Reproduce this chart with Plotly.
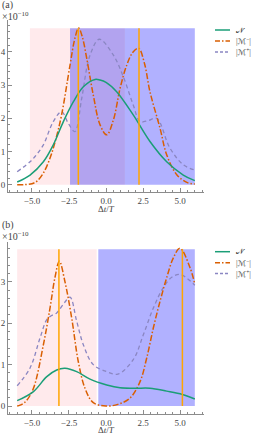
import plotly.graph_objects as go

W, H = 257, 437

# ---------------- data: panel (a) ----------------
a_N_x = [-6.0, -5.13, -4.23, -3.56, -2.88, -2.2, -1.53, -0.74, -0.4, 0.0, 0.72, 1.84, 2.97, 4.1, 5.22, 6.0]
a_N_y = [0.08, 0.29, 0.69, 1.2, 1.9, 2.5, 2.95, 3.17, 3.15, 3.08, 2.8, 2.1, 1.3, 0.69, 0.29, 0.12]

a_Mm_x = [-6.0, -5.5, -5.0, -4.68, -4.23, -3.78, -3.4, -3.0, -2.43, -2.1, -1.85, -1.6, -1.3, -0.86, -0.4, 0.05,
          0.5, 0.95, 1.4, 1.8, 2.2, 2.6, 2.97, 3.65, 4.1, 4.78, 5.5, 6.0]
a_Mm_y = [0.0, 0.0, 0.03, 0.1, 0.35, 0.8, 1.35, 2.1, 3.6, 4.41, 4.72, 4.45, 3.8, 2.7, 1.8, 1.5,
          1.95, 2.9, 3.6, 3.98, 4.11, 3.65, 2.8, 1.7, 0.9, 0.3, 0.06, 0.02]

a_Mp_x = [-6.0, -5.13, -4.7, -4.23, -3.56, -3.0, -2.55, -2.1, -1.64, -1.08, -0.45, 0.5, 1.17, 1.84, 2.3, 2.85,
          3.42, 4.32, 5.22, 6.0]
a_Mp_y = [0.39, 0.69, 0.9, 1.2, 1.9, 2.2, 1.85, 1.6, 2.6, 3.9, 4.38, 3.9, 3.25, 2.4, 1.9, 1.93,
          2.0, 1.1, 0.6, 0.44]

a_regions = [(-5.14, -2.43), (-2.43, 1.28), (1.28, 6.0)]
a_region_top = 4.71
a_vlines = [-1.87, 2.23]

# ---------------- data: panel (b) ----------------
b_N_x = [-6.0, -4.9, -4.0, -3.33, -2.77, -1.98, -1.08, 0.05, 0.95, 2.0, 2.97, 4.1, 5.16, 6.0]
b_N_y = [0.13, 0.35, 0.71, 0.87, 0.91, 0.83, 0.65, 0.51, 0.44, 0.43, 0.43, 0.36, 0.28, 0.17]

b_Mm_x = [-6.0, -5.8, -5.4, -4.9, -4.23, -3.78, -3.45, -3.15, -2.77, -2.32, -1.87, -1.42, -0.86, 0.0, 0.8,
          1.62, 2.3, 2.75, 3.2, 3.65, 4.1, 4.55, 5.0, 5.68, 6.0]
b_Mm_y = [0.0, 0.02, 0.12, 0.43, 1.48, 2.37, 3.1, 3.5, 3.0, 2.13, 1.07, 0.43, 0.08, 0.0, 0.04,
          0.19, 0.59, 1.16, 1.89, 2.53, 3.1, 3.58, 3.81, 3.34, 2.94]

b_Mp_x = [-6.0, -5.13, -4.46, -4.0, -3.7, -3.33, -2.8, -2.43, -1.98, -1.53, -0.86, 0.05, 0.8, 1.84, 2.52,
          3.2, 3.87, 4.44, 5.0, 6.0]
b_Mp_y = [0.49, 0.92, 1.64, 2.09, 2.18, 2.25, 2.5, 2.63, 2.05, 1.48, 1.0, 0.83, 0.77, 1.12, 1.72,
          2.37, 2.86, 3.11, 3.18, 2.92]

b_regions = [(-6.0, -0.63), (-0.52, 6.0)]
b_region_top = 3.79
b_vlines = [-3.18, 5.16]

x_ticks = [-5.0, -2.5, 0.0, 2.5, 5.0]
a_y_ticks = [0, 1, 2, 3, 4]
b_y_ticks = [0, 1, 2, 3]

legend_names = ["𝒩", "|ℳ<sup>−</sup>|", "|ℳ<sup>+</sup>|"]

# ---------------- styles ----------------
C_N = "#1b9e77"
C_Mm = "#d95f02"
C_Mp = "#8a86c2"
C_V = "#ffa500"
a_region_colors = ["#ffeaec", "#b2a3ef", "#b1b1ff"]
b_region_colors = ["#ffeaec", "#b1b1ff"]
AX = "#8c8c8c"
TXT = "#444444"
FONT = "Liberation Serif, DejaVu Serif, DejaVu Sans, Noto Sans"


def px(X):
    return X / W


def py(Y):
    return 1 - Y / H


fig = go.Figure()

series = [
    ("x", "y", a_N_x, a_N_y, a_Mm_x, a_Mm_y, a_Mp_x, a_Mp_y),
    ("x2", "y2", b_N_x, b_N_y, b_Mm_x, b_Mm_y, b_Mp_x, b_Mp_y),
]
for xa, ya, nx, ny, mmx, mmy, mpx, mpy in series:
    fig.add_trace(go.Scatter(x=mpx, y=mpy, xaxis=xa, yaxis=ya, mode="lines", showlegend=False,
                             hoverinfo="skip",
                             line=dict(color=C_Mp, width=1.3, dash="4px,3px", shape="spline", smoothing=1.0)))
    fig.add_trace(go.Scatter(x=mmx, y=mmy, xaxis=xa, yaxis=ya, mode="lines", showlegend=False,
                             hoverinfo="skip",
                             line=dict(color=C_Mm, width=1.5, dash="6px,2px,1.5px,2px", shape="spline", smoothing=1.0)))
    fig.add_trace(go.Scatter(x=nx, y=ny, xaxis=xa, yaxis=ya, mode="lines", showlegend=False,
                             hoverinfo="skip",
                             line=dict(color=C_N, width=1.5, shape="spline", smoothing=1.0)))

shapes = []
for (x0, x1), c in zip(a_regions, a_region_colors):
    shapes.append(dict(type="rect", xref="x", yref="y", x0=x0, x1=x1, y0=0, y1=a_region_top,
                       fillcolor=c, line=dict(width=0), layer="below"))
for (x0, x1), c in zip(b_regions, b_region_colors):
    shapes.append(dict(type="rect", xref="x2", yref="y2", x0=x0, x1=x1, y0=0, y1=b_region_top,
                       fillcolor=c, line=dict(width=0), layer="below"))
for v in a_vlines:
    shapes.append(dict(type="line", xref="x", yref="y", x0=v, x1=v, y0=0, y1=a_region_top,
                       line=dict(color=C_V, width=1.5), layer="above"))
for v in b_vlines:
    shapes.append(dict(type="line", xref="x2", yref="y2", x0=v, x1=v, y0=0, y1=b_region_top,
                       line=dict(color=C_V, width=1.5), layer="above"))

# manual legends
leg_styles = [dict(color=C_N, width=1.5), dict(color=C_Mm, width=1.5, dash="5px,2px,1.5px,2px"),
              dict(color=C_Mp, width=1.3, dash="3px,2px")]
annotations = []
for rows in ([30, 41, 52], [251.7, 262.7, 273.5]):
    for Y, st, name in zip(rows, leg_styles, legend_names):
        shapes.append(dict(type="line", xref="paper", yref="paper", x0=px(215), x1=px(230),
                           y0=py(Y), y1=py(Y), line=st))
        annotations.append(dict(x=px(234), y=py(Y), xref="paper", yref="paper", text=name,
                                showarrow=False, xanchor="left", yanchor="middle",
                                font=dict(family=FONT, size=8, color=TXT)))

for lab, Y1, Y2 in (("(a)", 5, 16), ("(b)", 225.5, 236)):
    annotations.append(dict(x=0, y=py(Y1), xref="paper", yref="paper", text=lab, showarrow=False,
                            xanchor="left", yanchor="middle", font=dict(family=FONT, size=10, color=TXT)))
    annotations.append(dict(x=0, y=py(Y2), xref="paper", yref="paper", text="×10<sup>−10</sup>",
                            showarrow=False, xanchor="left", yanchor="middle",
                            font=dict(family=FONT, size=10, color=TXT)))

for Y in (209.5, 429.5):
    annotations.append(dict(x=px(106), y=py(Y), xref="paper", yref="paper",
                            text="Δ<i>t</i>/<i>T</i>", showarrow=False, xanchor="center", yanchor="middle",
                            font=dict(family=FONT, size=9, color=TXT)))

xaxis_common = dict(range=[-6.62, 6.62], domain=[px(8), px(204)], tickvals=x_ticks,
                    ticktext=[f"{v:.1f}".replace("-", "−") for v in x_ticks],
                    showline=True, linecolor=AX, linewidth=1, ticks="inside", ticklen=4, tickcolor=AX,
                    showgrid=False, zeroline=False, tickfont=dict(family=FONT, size=9, color=TXT),
                    minor=dict(ticks="inside", ticklen=2, tickcolor=AX, dtick=0.5, tick0=0))
yaxis_common = dict(showline=True, linecolor=AX, linewidth=1, ticks="inside", ticklen=4, tickcolor=AX,
                    showgrid=False, zeroline=False, tickfont=dict(family=FONT, size=9, color=TXT),
                    minor=dict(ticks="inside", ticklen=2, tickcolor=AX, dtick=0.2, tick0=0))

fig.update_layout(
    width=W, height=H, margin=dict(l=0, r=0, t=0, b=0),
    paper_bgcolor="white", plot_bgcolor="white", showlegend=False, hovermode=False,
    xaxis=dict(**xaxis_common, anchor="y"),
    yaxis=dict(**yaxis_common, anchor="x", range=[-0.23, 4.96], domain=[py(192.3), py(20)],
               tickvals=a_y_ticks),
    xaxis2=dict(**xaxis_common, anchor="y2"),
    yaxis2=dict(**yaxis_common, anchor="x2", range=[-0.2, 3.97], domain=[py(414.3), py(241.7)],
                tickvals=b_y_ticks),
    shapes=shapes, annotations=annotations,
)

fig.write_html("out.html", config={"displayModeBar": False, "staticPlot": True},
               post_script="document.body.style.margin='0';document.body.style.padding='0';")
